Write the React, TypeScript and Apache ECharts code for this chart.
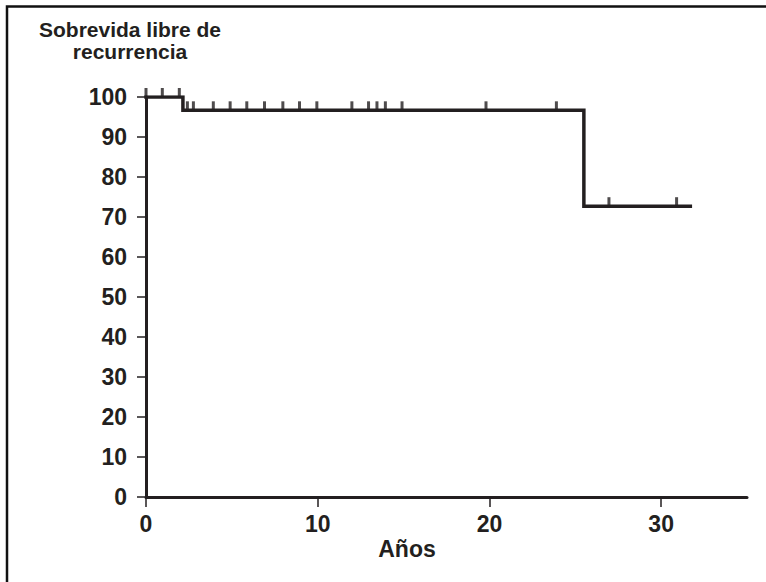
import React, { useEffect, useRef } from "react";
import * as echarts from "echarts";

// Kaplan-Meier step curve (time in years, survival %)
const stepTimes = [0, 2.15, 2.15, 25.5, 25.5, 31.7];
const stepSurvival = [100, 100, 96.67, 96.67, 72.7, 72.7];

// Censored observations
const censorTimes = [0, 0.95, 1.94, 2.41, 2.76, 3.92, 4.9, 5.87, 6.9, 7.97, 8.94, 9.95, 11.99, 12.96, 13.45, 13.94, 14.91, 19.8, 23.9, 26.96, 30.9];
const censorSurvival = [100, 100, 100, 96.67, 96.67, 96.67, 96.67, 96.67, 96.67, 96.67, 96.67, 96.67, 96.67, 96.67, 96.67, 96.67, 96.67, 96.67, 96.67, 72.7, 72.7];

const xTicks = [0, 10, 20, 30];
const yTicks = [0, 10, 20, 30, 40, 50, 60, 70, 80, 90, 100];

const yTitleLines = ["Sobrevida libre de", "recurrencia"];
const xTitle = "Años";

const INK = "#231f20";
const FONT = "'Liberation Sans', Arial, Helvetica, sans-serif";

export default function App() {
  const ref = useRef<HTMLDivElement>(null);

  useEffect(() => {
    if (!ref.current) return;
    const chart = echarts.init(ref.current, undefined, { renderer: "svg" });
    const curve = stepTimes.map((t, i) => [t, stepSurvival[i]]);
    const censors = censorTimes.map((t, i) => [t, censorSurvival[i]]);
    chart.setOption({
      animation: false,
      backgroundColor: "#ffffff",
      grid: { left: 146, top: 97, width: 601, height: 400, containLabel: false },
      xAxis: {
        type: "value",
        min: 0,
        max: 35,
        interval: 10,
        splitLine: { show: false },
        axisLine: { show: true, onZero: false, lineStyle: { color: INK, width: 3 } },
        axisTick: { show: true, length: 10, customValues: xTicks, lineStyle: { color: INK, width: 1.5 } },
        axisLabel: {
          customValues: xTicks,
          margin: 15,
          color: INK,
          fontSize: 23,
          fontWeight: "bold",
          fontFamily: FONT,
        },
      },
      yAxis: {
        type: "value",
        min: 0,
        max: 100,
        interval: 10,
        splitLine: { show: false },
        axisLine: { show: true, onZero: false, lineStyle: { color: INK, width: 3 } },
        axisTick: { show: true, length: 9, customValues: yTicks, lineStyle: { color: INK, width: 1.5 } },
        axisLabel: {
          customValues: yTicks,
          margin: 19,
          color: INK,
          fontSize: 23,
          fontWeight: "bold",
          fontFamily: FONT,
        },
      },
      series: [
        {
          type: "line",
          data: curve,
          showSymbol: false,
          symbol: "none",
          lineStyle: { color: INK, width: 3.5, cap: "square", join: "miter" },
          z: 3,
        },
        {
          type: "scatter",
          data: censors,
          symbol: "rect",
          symbolSize: [3, 9],
          symbolOffset: [0, -4.5],
          itemStyle: { color: INK },
          z: 4,
        },
      ],
      graphic: [
        {
          type: "polyline",
          shape: { points: [[7, 582], [7, 6.5], [766, 6.5]] },
          style: { stroke: "#111", lineWidth: 2.5, fill: "none" },
        },
        {
          type: "text",
          x: 130,
          y: 19,
          style: {
            text: yTitleLines[0],
            fill: INK,
            font: `bold 21px ${FONT}`,
            align: "center",
            verticalAlign: "top",
          },
        },
        {
          type: "text",
          x: 130,
          y: 41,
          style: {
            text: yTitleLines[1],
            fill: INK,
            font: `bold 21px ${FONT}`,
            align: "center",
            verticalAlign: "top",
          },
        },
        {
          type: "text",
          x: 407,
          y: 537,
          style: {
            text: xTitle,
            fill: INK,
            font: `bold 23px ${FONT}`,
            align: "center",
            verticalAlign: "top",
          },
        },
      ],
    });
    return () => chart.dispose();
  }, []);

  return (
    <div
      ref={ref}
      style={{ position: "fixed", left: 0, top: 0, width: 766, height: 582, background: "#fff" }}
    />
  );
}
